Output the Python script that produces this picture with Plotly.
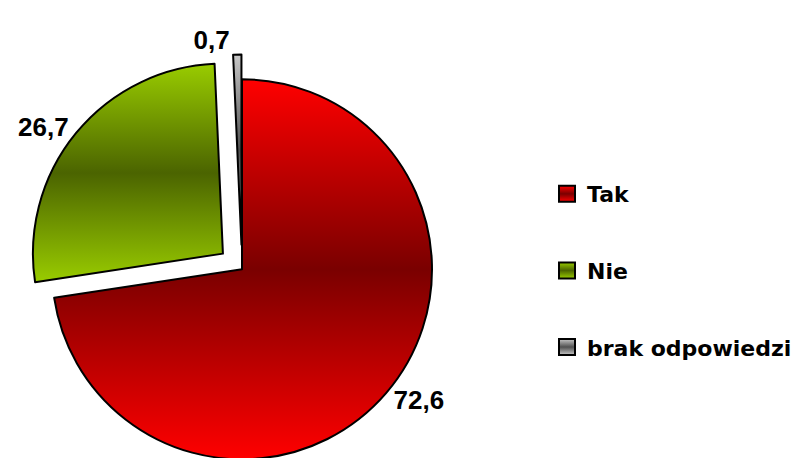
import json
import plotly.graph_objects as go

# Survey answers
categories = ["Tak", "Nie", "brak odpowiedzi"]
values = [72.6, 26.7, 0.7]
pulls = [0.0, 0.13, 0.13]

# Slice colours: edge and middle stops of the vertical gradient, plus a flat fallback
edge_colors = ["#FF0000", "#99CC00", "#C8C8C8"]
mid_colors = ["#7A0000", "#4B6400", "#505050"]
flat_colors = ["#C00000", "#739900", "#909090"]

W, H = 794, 484

fig = go.Figure()
fig.add_trace(go.Pie(
    labels=categories,
    values=values,
    sort=False,
    direction="clockwise",
    rotation=0,
    pull=pulls,
    textinfo="value",
    textposition="outside",
    textfont=dict(family="Liberation Sans, Arial, sans-serif", size=26,
                  color="black", weight="bold"),
    marker=dict(colors=flat_colors, line=dict(color="black", width=2)),
    domain=dict(x=[0, 484 / W], y=[0, 429.4 / H]),
    showlegend=False,
    hoverinfo="label+value",
))

# Legend entries
for name, color in zip(categories, flat_colors):
    fig.add_trace(go.Scatter(
        x=[None], y=[None], mode="markers", name=name, legendgroup=name,
        marker=dict(symbol="square", size=16, color=color,
                    line=dict(color="black", width=2)),
    ))

fig.update_layout(
    width=W, height=H,
    margin=dict(l=0, r=0, t=0, b=0, autoexpand=False),
    paper_bgcolor="white", plot_bgcolor="white",
    separators=", ",
    showlegend=True,
    legend=dict(
        x=547 / W, y=1 - 173 / H, xanchor="left", yanchor="top",
        tracegroupgap=45,
        font=dict(family="DejaVu Sans, sans-serif", size=22, color="black", weight="bold"),
        bgcolor="rgba(0,0,0,0)",
    ),
    xaxis=dict(visible=False),
    yaxis=dict(visible=False),
)

# Vertical light-dark-light gradient fills for the slices and legend keys
post_js = """
var gd = document.getElementById('{plot_id}');
document.documentElement.style.overflow = 'hidden';
document.body.style.overflow = 'hidden';
var EDGE = __EDGE__, MID = __MID__;
function paintGradients() {
  var svg = gd.querySelector('svg.main-svg');
  if (!svg) return;
  var ns = 'http://www.w3.org/2000/svg';
  var defs = svg.querySelector('defs');
  for (var i = 0; i < EDGE.length; i++) {
    var id = 'slicegrad' + i;
    if (!document.getElementById(id)) {
      var g = document.createElementNS(ns, 'linearGradient');
      g.setAttribute('id', id);
      g.setAttribute('x1', '0'); g.setAttribute('y1', '0');
      g.setAttribute('x2', '0'); g.setAttribute('y2', '1');
      [[0, EDGE[i]], [0.5, MID[i]], [1, EDGE[i]]].forEach(function (s) {
        var st = document.createElementNS(ns, 'stop');
        st.setAttribute('offset', s[0]);
        st.setAttribute('stop-color', s[1]);
        g.appendChild(st);
      });
      defs.appendChild(g);
    }
  }
  gd.querySelectorAll('g.slice path.surface').forEach(function (p, i) {
    p.style.fill = 'url(#slicegrad' + i + ')';
  });
  gd.querySelectorAll('g.legend g.traces').forEach(function (t, i) {
    t.querySelectorAll('path.scatterpts').forEach(function (p) {
      p.style.fill = 'url(#slicegrad' + i + ')';
    });
  });
}
paintGradients();
gd.on('plotly_afterplot', paintGradients);
""".replace("__EDGE__", json.dumps(edge_colors)).replace("__MID__", json.dumps(mid_colors))

fig.write_html("out.html", post_script=post_js)
